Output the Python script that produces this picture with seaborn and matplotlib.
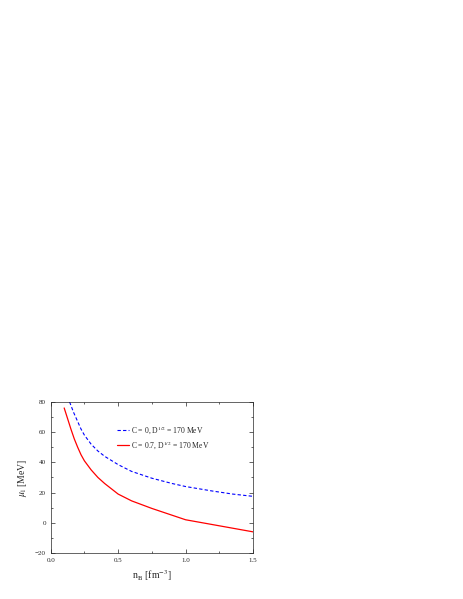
import numpy as np
import pandas as pd
import seaborn as sns
import matplotlib.pyplot as plt
from matplotlib.ticker import AutoMinorLocator

# datos
n_blue = [0.14, 0.17, 0.2, 0.225, 0.25, 0.3, 0.35, 0.4, 0.5, 0.6, 0.75, 0.9, 1.0, 1.2, 1.35, 1.5]
mu_blue = [80, 73, 67, 62, 58, 52, 47.5, 44, 38.5, 34, 29.5, 26, 24, 21, 19, 17.5]
n_red = [0.1, 0.125, 0.15, 0.175, 0.2, 0.225, 0.25, 0.3, 0.35, 0.4, 0.5, 0.6, 0.75, 0.9, 1.0, 1.25, 1.5]
mu_red = [76, 69, 62, 55.5, 50, 45, 41, 35, 30, 26, 19, 14.5, 9.5, 5, 2, -2, -6]

sns.set_style("ticks")
plt.rcParams['font.family'] = ['Liberation Serif', 'DejaVu Serif']
plt.rcParams['mathtext.fontset'] = 'stix'

fig = plt.figure(figsize=(4.63, 5.99), dpi=100)
ax = fig.add_axes([0.1095, 0.0768, 0.437, 0.2522])

df_b = pd.DataFrame({"n": n_blue, "mu": mu_blue})
df_r = pd.DataFrame({"n": n_red, "mu": mu_red})
sns.lineplot(data=df_b, x="n", y="mu", ax=ax, color="blue", lw=0.8,
             linestyle=(0, (3, 2)), label=r"C = 0, D$^{1/2}$ = 170 MeV")
sns.lineplot(data=df_r, x="n", y="mu", ax=ax, color="red", lw=0.9,
             label=r"C = 0.7, D$^{1/2}$ = 170 MeV")

ax.set_xlim(0, 1.5)
ax.set_ylim(-20, 80)
ax.set_xticks([0.0, 0.5, 1.0, 1.5])
ax.set_yticks(range(-20, 81, 20))
ax.xaxis.set_minor_locator(AutoMinorLocator(2))
ax.yaxis.set_minor_locator(AutoMinorLocator(2))
ax.tick_params(which="both", direction="in", top=True, right=True, labelsize=5)
ax.tick_params(which="major", length=3, width=0.5)
ax.tick_params(which="minor", length=1.5, width=0.5)
for s in ax.spines.values():
    s.set_linewidth(0.5)
ax.set_xlabel(r"n$_\mathrm{B}$ [fm$^{-3}$]", fontsize=7)
ax.set_ylabel(r"$\mu_\mathrm{l}$ [MeV]", fontsize=7)
ax.legend(loc="upper right", bbox_to_anchor=(0.82, 0.9), frameon=False,
          fontsize=5.5, handlelength=1.6, handletextpad=0.3)

fig.savefig("out.png", dpi=100)
